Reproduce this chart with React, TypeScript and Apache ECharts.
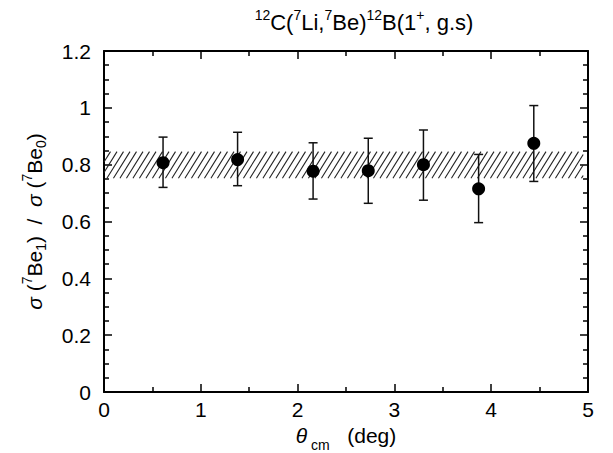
import React, { useEffect, useRef } from "react";
import * as echarts from "echarts";

// Data
const thetaCm = [0.61, 1.38, 2.16, 2.73, 3.3, 3.87, 4.44];
const ratio = [0.807, 0.818, 0.777, 0.779, 0.8, 0.715, 0.875];
const errLow = [0.72, 0.726, 0.679, 0.664, 0.675, 0.596, 0.741];
const errHigh = [0.897, 0.914, 0.877, 0.893, 0.922, 0.836, 1.008];
const bandTheta = [0, 4.95];
const bandRatio = [0.752, 0.846];
const xRange = [0, 5];
const yRange = [0, 1.2];

const FONT = "'Liberation Sans', Arial, Helvetica, sans-serif";

export default function App() {
  const ref = useRef<HTMLDivElement>(null);

  useEffect(() => {
    if (!ref.current) return;
    const chart = echarts.init(ref.current, undefined, { renderer: "svg" });

    const points = thetaCm.map((t, i) => [t, ratio[i]]);
    const errs = thetaCm.map((t, i) => [t, errLow[i], errHigh[i]]);
    const band = [[bandTheta[0], bandTheta[1], bandRatio[0], bandRatio[1]]];

    const axisCommonX = {
      type: "value",
      min: xRange[0],
      max: xRange[1],
      interval: 1,
      axisLine: { show: true, onZero: false, lineStyle: { color: "#000", width: 2 } },
      axisTick: { show: true, inside: true, length: 8, lineStyle: { color: "#000", width: 1.5 } },
      minorTick: { show: true, splitNumber: 2, length: 5, lineStyle: { color: "#000", width: 1.5 } },
      splitLine: { show: false },
      minorSplitLine: { show: false },
    };
    const axisCommonY = {
      type: "value",
      min: yRange[0],
      max: yRange[1],
      interval: 0.2,
      axisLine: { show: true, onZero: false, lineStyle: { color: "#000", width: 2 } },
      axisTick: { show: true, inside: true, length: 8, lineStyle: { color: "#000", width: 1.5 } },
      minorTick: { show: true, splitNumber: 4, length: 5, lineStyle: { color: "#000", width: 1.5 } },
      splitLine: { show: false },
      minorSplitLine: { show: false },
    };

    const option: any = {
      animation: false,
      backgroundColor: "#fff",
      grid: { left: 104, right: 25, top: 51, bottom: 61, containLabel: false, outerBoundsMode: "none" },
      graphic: [
        {
          type: "text",
          x: 364,
          y: 22,
          style: {
            text: "{sup|12}{m|C(}{sup|7}{m|Li,}{sup|7}{m|Be)}{sup|12}{m|B(1}{sup|+}{m|, g.s)}",
            align: "center",
            verticalAlign: "middle",
            fill: "#000",
            rich: {
              m: { fontSize: 22, fontFamily: FONT, lineHeight: 28, fill: "#000" },
              sup: { fontSize: 14, fontFamily: FONT, lineHeight: 14, verticalAlign: "top", fill: "#000" },
            },
          },
        },
      ],
      xAxis: [
        {
          ...axisCommonX,
          position: "bottom",
          axisLabel: { color: "#000", fontSize: 21, fontFamily: FONT, margin: 7 },
          name: "{i|θ}{sub| cm}{m|   (deg)}",
          nameLocation: "middle",
          nameGap: 16,
          nameTextStyle: {
            rich: {
              i: { fontSize: 21, fontFamily: FONT, fontStyle: "italic", lineHeight: 26, color: "#000" },
              m: { fontSize: 21, fontFamily: FONT, lineHeight: 26, color: "#000" },
              sub: { fontSize: 14, fontFamily: FONT, lineHeight: 14, verticalAlign: "bottom", color: "#000", padding: [0, 0, -4, 0] },
            },
          },
        },
        {
          ...axisCommonX,
          position: "top",
          axisLabel: { show: false },
        },
      ],
      yAxis: [
        {
          ...axisCommonY,
          position: "left",
          axisLabel: { color: "#000", fontSize: 21, fontFamily: FONT, margin: 13 },
          name: "{i|σ}{m| (}{sup|7}{m|Be}{sub|1}{m|)  /  }{i|σ}{m| (}{sup|7}{m|Be}{sub|0}{m|)}",
          nameLocation: "middle",
          nameRotate: 90,
          nameGap: 56,
          nameTextStyle: {
            rich: {
              i: { fontSize: 21, fontFamily: FONT, fontStyle: "italic", lineHeight: 28, color: "#000" },
              m: { fontSize: 21, fontFamily: FONT, lineHeight: 28, color: "#000" },
              sup: { fontSize: 14, fontFamily: FONT, lineHeight: 14, verticalAlign: "top", color: "#000" },
              sub: { fontSize: 14, fontFamily: FONT, lineHeight: 14, verticalAlign: "bottom", color: "#000" },
            },
          },
        },
        {
          ...axisCommonY,
          position: "right",
          axisLabel: { show: false },
        },
      ],
      series: [
        {
          type: "custom",
          name: "band",
          data: band,
          encode: { x: [0, 1], y: [2, 3] },
          silent: true,
          z: 1,
          renderItem: (params: any, api: any) => {
            const p0 = api.coord([api.value(0), api.value(3)]);
            const p1 = api.coord([api.value(1), api.value(2)]);
            const x0 = p0[0], yT = p0[1], x1 = p1[0], yB = p1[1];
            const h = yB - yT;
            const dx = h * 0.62;
            const step = 6.5;
            const children: any[] = [];
            for (let xs = x0 - dx; xs < x1; xs += step) {
              let ax = xs, ay = yB, bx = xs + dx, by = yT;
              if (ax < x0) { const t = (x0 - ax) / dx; ax = x0; ay = yB - t * h; }
              if (bx > x1) { const t = (bx - x1) / dx; bx = x1; by = yT + t * h; }
              if (ax >= bx) continue;
              children.push({
                type: "line",
                shape: { x1: ax, y1: ay, x2: bx, y2: by },
                style: { stroke: "#222", lineWidth: 1.1 },
              });
            }
            return { type: "group", children };
          },
        },
        {
          type: "custom",
          name: "errors",
          data: errs,
          encode: { x: 0, y: [1, 2] },
          z: 2,
          renderItem: (params: any, api: any) => {
            const x = api.value(0);
            const top = api.coord([x, api.value(2)]);
            const bot = api.coord([x, api.value(1)]);
            const cap = 4.5;
            const st = { stroke: "#111", lineWidth: 1.5 };
            return {
              type: "group",
              children: [
                { type: "line", shape: { x1: top[0], y1: top[1], x2: bot[0], y2: bot[1] }, style: st },
                { type: "line", shape: { x1: top[0] - cap, y1: top[1], x2: top[0] + cap, y2: top[1] }, style: st },
                { type: "line", shape: { x1: bot[0] - cap, y1: bot[1], x2: bot[0] + cap, y2: bot[1] }, style: st },
              ],
            };
          },
        },
        {
          type: "scatter",
          name: "ratio",
          data: points,
          symbol: "circle",
          symbolSize: 13,
          itemStyle: { color: "#000", opacity: 1 },
          z: 3,
        },
      ],
    };

    chart.setOption(option);
    return () => chart.dispose();
  }, []);

  return (
    <div
      ref={ref}
      style={{ position: "fixed", left: 0, top: 0, width: 613, height: 453, background: "#fff" }}
    />
  );
}
